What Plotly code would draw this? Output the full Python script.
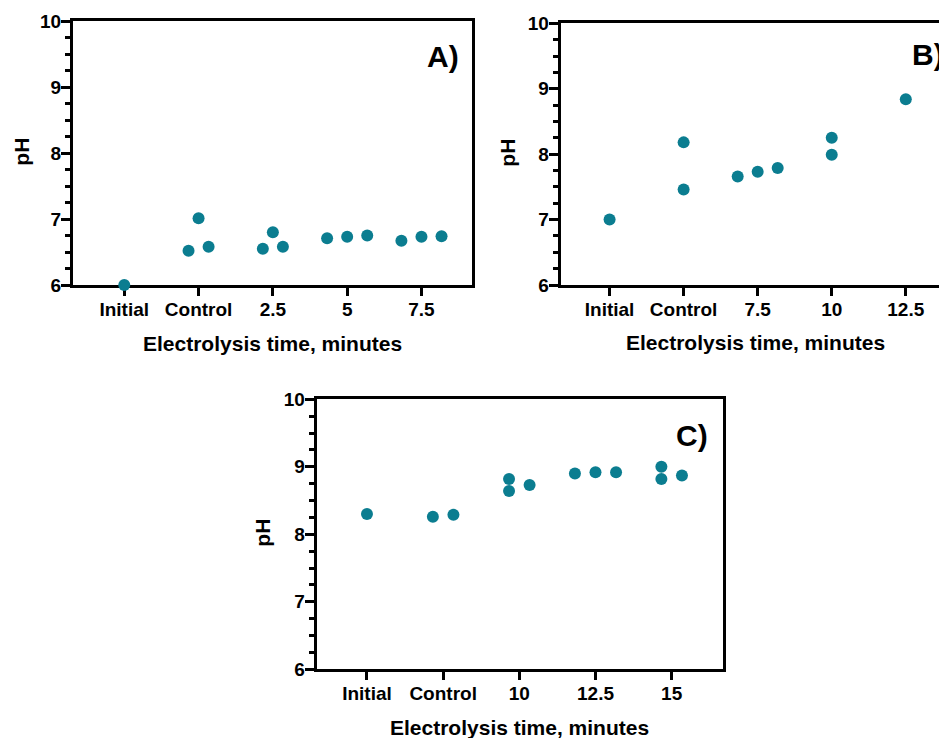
import plotly.graph_objects as go

# ---------------- data ----------------
categories_a = ["Initial", "Control", "2.5", "5", "7.5"]
ph_a = [[6.00], [6.52, 7.01, 6.58], [6.55, 6.80, 6.58], [6.71, 6.75, 6.73], [6.67, 6.74, 6.73]]

categories_b = ["Initial", "Control", "7.5", "10", "12.5"]
ph_b = [[7.00], [8.18, 7.46], [7.66, 7.79, 7.73], [8.25, 7.99], [8.84]]

categories_c = ["Initial", "Control", "10", "12.5", "15"]
ph_c = [[8.30], [8.26, 8.29], [8.82, 8.64, 8.73], [8.90, 8.92, 8.92], [9.00, 8.82, 8.87]]

y_ticks = [6, 7, 8, 9, 10]
panel_labels = ["A)", "B)", "C)"]
x_title = "Electrolysis time, minutes"
y_title = "pH"

# ---------------- layout helpers ----------------
W, H = 947, 738
OFF = 8  # page body margin; positions below are window pixels
FONT = "Liberation Sans, Arial, sans-serif"
COLOR = "#0b7d90"
SPACING = 0.27   # horizontal swarm spacing (category units)
OVERLAP = 0.15   # pH difference considered overlapping


def swarm(values):
    """Simple beeswarm-like horizontal offsets (Prism style)."""
    idx = sorted(range(len(values)), key=lambda i: values[i])
    offsets = [0.0] * len(values)
    clusters = []
    for i in idx:
        if clusters and values[i] - values[clusters[-1][-1]] < OVERLAP:
            clusters[-1].append(i)
        else:
            clusters.append([i])
    for cl in clusters:
        n = len(cl)
        if n == 1:
            continue
        span = values[cl[-1]] - values[cl[0]]
        if span < OVERLAP:
            for k, i in enumerate(cl):
                offsets[i] = (k - (n - 1) / 2) * SPACING
        else:
            for k, i in enumerate(cl):
                offsets[i] = (-0.5 if k % 2 == 0 else 0.5) * SPACING
    return offsets


def px_x(p):
    return min(1.0, (p - OFF) / W)


def px_y(p):
    return 1 - (p - OFF) / H


panels = [
    dict(cats=categories_a, vals=ph_a, box=(73, 472, 21, 285), xr=[-0.69, 4.68], mirror_y=True,
         label_pos=(442.5, 56), xt_pos=(272.5, 343), yt_pos=(21.7, 152)),
    dict(cats=categories_b, vals=ph_b, box=(560.7, 947 + 1, 23.3, 285), xr=[-0.66, 4.57], mirror_y=False,
         label_pos=(928, 55), xt_pos=(755, 342), yt_pos=(506.7, 153)),
    dict(cats=categories_c, vals=ph_c, box=(316.7, 722.7, 399.3, 669.3), xr=[-0.66, 4.67], mirror_y=True,
         label_pos=(691.7, 435), xt_pos=(519.5, 727), yt_pos=(261.7, 533)),
]

fig = go.Figure()
annotations = []
for n, p in enumerate(panels):
    suffix = "" if n == 0 else str(n + 1)
    xs, ys = [], []
    for ci, group in enumerate(p["vals"]):
        offs = swarm(group)
        for v, o in zip(group, offs):
            xs.append(ci + o)
            ys.append(v)
    fig.add_trace(go.Scatter(
        x=xs, y=ys, mode="markers", xaxis="x" + suffix, yaxis="y" + suffix,
        marker=dict(color=COLOR, size=12, line=dict(width=0)),
        cliponaxis=False, showlegend=False, hoverinfo="y",
    ))
    l, r, t, b = p["box"]
    xa = dict(
        domain=[px_x(l), px_x(r)], range=p["xr"], anchor="y" + suffix,
        tickmode="array", tickvals=list(range(len(p["cats"]))), ticktext=p["cats"],
        showline=True, linecolor="black", linewidth=3, mirror=True,
        ticks="outside", ticklen=8, tickwidth=2.5, tickcolor="black",
        ticklabelstandoff=-3,
        showgrid=False, zeroline=False, layer="below traces", automargin=False,
        tickfont=dict(family=FONT, size=19, color="black", weight="bold"),
        fixedrange=True,
    )
    ya = dict(
        domain=[px_y(b), px_y(t)], range=[6, 10], anchor="x" + suffix,
        tickmode="array", tickvals=y_ticks,
        showline=True, linecolor="black", linewidth=3, mirror=p["mirror_y"],
        ticks="outside", ticklen=9, tickwidth=2.5, tickcolor="black",
        ticklabelstandoff=-4,
        minor=dict(dtick=0.25, ticks="outside", ticklen=5, tickwidth=2.5, tickcolor="black"),
        showgrid=False, zeroline=False, layer="below traces", automargin=False,
        tickfont=dict(family=FONT, size=19, color="black", weight="bold"),
        fixedrange=True,
    )
    fig.update_layout({"xaxis" + suffix: xa, "yaxis" + suffix: ya})

    annotations.append(dict(text=panel_labels[n], x=px_x(p["label_pos"][0]), y=px_y(p["label_pos"][1]),
                            xref="paper", yref="paper", showarrow=False, xanchor="center", yanchor="middle",
                            font=dict(family=FONT, size=30, color="black", weight="bold")))
    annotations.append(dict(text=x_title, x=px_x(p["xt_pos"][0]), y=px_y(p["xt_pos"][1]),
                            xref="paper", yref="paper", showarrow=False, xanchor="center", yanchor="middle",
                            font=dict(family=FONT, size=21, color="black", weight="bold")))
    annotations.append(dict(text=y_title, x=px_x(p["yt_pos"][0]), y=px_y(p["yt_pos"][1]), textangle=-90,
                            xref="paper", yref="paper", showarrow=False, xanchor="center", yanchor="middle",
                            font=dict(family=FONT, size=21, color="black", weight="bold")))

fig.update_layout(
    width=W, height=H, autosize=False,
    margin=dict(l=0, r=0, t=0, b=0, pad=0, autoexpand=False),
    paper_bgcolor="white", plot_bgcolor="white",
    font=dict(family=FONT, color="black", weight="bold"),
    annotations=annotations,
    showlegend=False,
)

fig.write_html("out.html")
